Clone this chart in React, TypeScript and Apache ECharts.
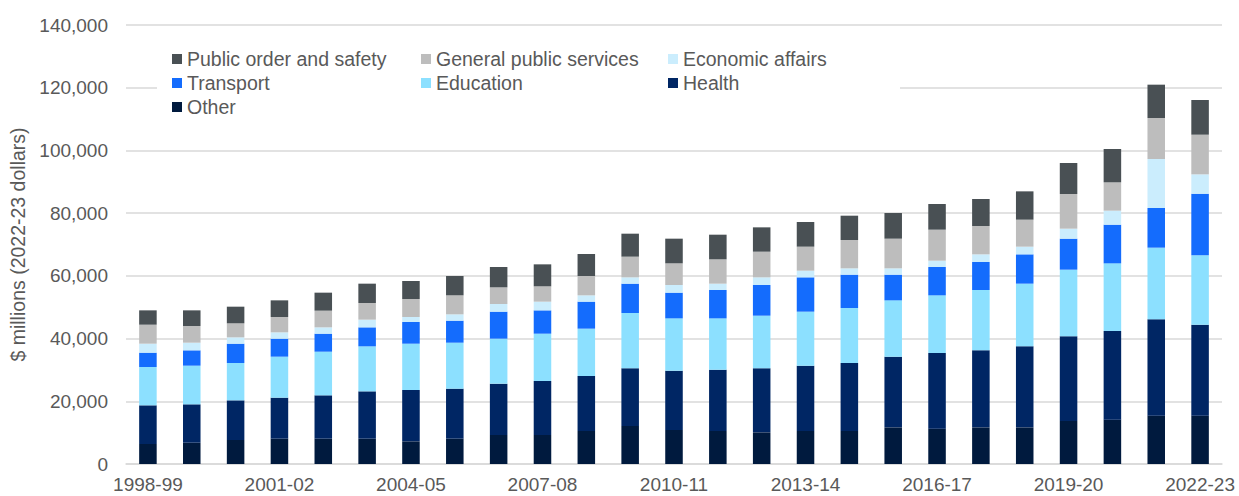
import React, { useEffect, useRef } from "react";
import * as echarts from "echarts";

const categories = [
  "1998-99", "1999-00", "2000-01", "2001-02", "2002-03", "2003-04", "2004-05",
  "2005-06", "2006-07", "2007-08", "2008-09", "2009-10", "2010-11", "2011-12",
  "2012-13", "2013-14", "2014-15", "2015-16", "2016-17", "2017-18", "2018-19",
  "2019-20", "2020-21", "2021-22", "2022-23",
];

const other = [6380, 6800, 7650, 8080, 8080, 8080, 7230, 8080, 9250, 9250, 10520, 12120, 10840, 10520, 10100, 10520, 10520, 11690, 11270, 11690, 11690, 13710, 14140, 15410, 15410];
const health = [12330, 12230, 12650, 13070, 13820, 15090, 16370, 15940, 16370, 17220, 17540, 18390, 18920, 19560, 20410, 20840, 21690, 22540, 24130, 24560, 25830, 27000, 28270, 30720, 29020];
const education = [12220, 12330, 11910, 13080, 13920, 14350, 14770, 14670, 14350, 15090, 15100, 17640, 16690, 16370, 16790, 17220, 17540, 17960, 18390, 19240, 19990, 21260, 21580, 22860, 22110];
const transport = [4570, 4890, 6160, 5740, 5740, 6060, 6910, 7020, 8610, 7440, 8610, 9360, 8190, 9040, 9780, 10950, 10630, 8190, 9030, 8930, 9350, 9890, 12330, 12650, 19670];
const economicAffairs = [2870, 2440, 2020, 2020, 2020, 2450, 1600, 2020, 2440, 2770, 2020, 2020, 2440, 2020, 2450, 2120, 2020, 2020, 2020, 2440, 2450, 3190, 4470, 15620, 6160];
const generalPublicServices = [6060, 5320, 4470, 4890, 5320, 5310, 5740, 6060, 5320, 4890, 6160, 6590, 6910, 7760, 8180, 7660, 9030, 9460, 9890, 9040, 8610, 11050, 9030, 13080, 12650];
const publicOrder = [4570, 4990, 5310, 5310, 5740, 6170, 5740, 6160, 6480, 7010, 7020, 7330, 7870, 7860, 7760, 7860, 7760, 8180, 8180, 8610, 9030, 9890, 10630, 10630, 11060];

const seriesDefs = [
  { name: "Other", data: other, color: "#001a3e" },
  { name: "Health", data: health, color: "#002664" },
  { name: "Education", data: education, color: "#8ce0ff" },
  { name: "Transport", data: transport, color: "#146cfd" },
  { name: "Economic affairs", data: economicAffairs, color: "#cbedfd" },
  { name: "General public services", data: generalPublicServices, color: "#bdbdbd" },
  { name: "Public order and safety", data: publicOrder, color: "#495054" },
];

const FONT = "Liberation Sans";
const TEXT_COLOR = "#595959";

export default function App() {
  const ref = useRef<HTMLDivElement>(null);
  useEffect(() => {
    document.body.style.margin = "0";
    if (!ref.current) return;
    const chart = echarts.init(ref.current, null, { renderer: "svg" });
    const legendText = { fontFamily: FONT, fontSize: 19.5, color: TEXT_COLOR, lineHeight: 20 };
    const legendCommon = {
      orient: "vertical",
      top: 49,
      itemWidth: 10,
      itemHeight: 10,
      itemGap: 4,
      padding: 0,
      icon: "rect",
      textStyle: legendText,
      selectedMode: false,
    };
    chart.setOption({
      animation: false,
      backgroundColor: "#ffffff",
      textStyle: { fontFamily: FONT },
      grid: { left: 126, right: 17, top: 25, bottom: 32, containLabel: false },
      legend: [
        { ...legendCommon, left: 172, data: ["Public order and safety", "Transport", "Other"] },
        { ...legendCommon, left: 421, data: ["General public services", "Education"] },
        { ...legendCommon, left: 668, data: ["Economic affairs", "Health"] },
      ],
      graphic: [
        {
          type: "rect",
          z: 1,
          shape: { x: 157, y: 42, width: 743, height: 76 },
          style: { fill: "#ffffff" },
        },
      ],
      xAxis: {
        type: "category",
        data: categories,
        axisLine: { show: true, lineStyle: { color: "#d9d9d9", width: 1.5 } },
        axisTick: { show: false },
        axisLabel: {
          interval: 2,
          fontFamily: FONT,
          fontSize: 19,
          color: TEXT_COLOR,
          margin: 11,
        },
      },
      yAxis: {
        type: "value",
        min: 0,
        max: 140000,
        interval: 20000,
        name: "$ millions (2022-23 dollars)",
        nameLocation: "middle",
        nameGap: 96,
        nameTextStyle: { fontFamily: FONT, fontSize: 19.5, color: TEXT_COLOR },
        axisLine: { show: false },
        axisTick: { show: false },
        splitLine: { lineStyle: { color: "#d9d9d9", width: 1.5 } },
        axisLabel: {
          fontFamily: FONT,
          fontSize: 19,
          color: TEXT_COLOR,
          margin: 18,
          formatter: (v: number) => v.toLocaleString("en-US"),
        },
      },
      series: seriesDefs.map((s) => ({
        name: s.name,
        type: "bar",
        stack: "total",
        data: s.data,
        barWidth: "40%",
        itemStyle: { color: s.color },
      })),
    });
    return () => chart.dispose();
  }, []);
  return <div ref={ref} style={{ width: 1239, height: 496 }} />;
}
